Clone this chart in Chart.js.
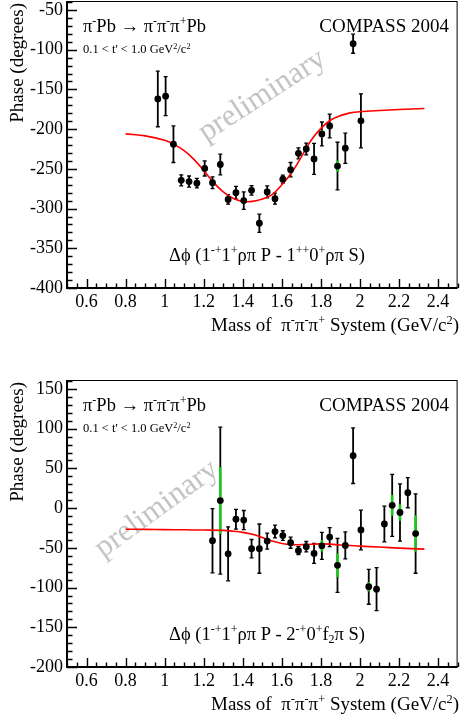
<!DOCTYPE html>
<html><head><meta charset="utf-8">
<script src="https://cdn.jsdelivr.net/npm/chart.js@4.4.1/dist/chart.umd.min.js"></script>
<style>
html,body{margin:0;padding:0;background:#fff;width:461px;height:718px;overflow:hidden;position:relative}
.wrap{position:absolute;left:0;width:461px;height:359px}
canvas{display:block}
</style></head><body>
<div class="wrap" style="top:-20px"><canvas id="c1" width="461" height="359"></canvas></div>
<div class="wrap" style="top:359px"><canvas id="c2" width="461" height="359"></canvas></div>
<script>
const FONT = '"Liberation Serif", "Times New Roman", Times, serif';

// ---------- axis ticks ----------
const xTickValues = [0.6, 0.8, 1.0, 1.2, 1.4, 1.6, 1.8, 2.0, 2.2, 2.4];
const xTickLabels = ['0.6', '0.8', '1', '1.2', '1.4', '1.6', '1.8', '2', '2.2', '2.4'];
const yTicksTop = [-400, -350, -300, -250, -200, -150, -100, -50];
const yTicksBot = [-200, -150, -100, -50, 0, 50, 100, 150];

// ---------- top panel: 1-+1+ rho pi P - 1++0+ rho pi S ----------
const massTop = [0.965, 1.005, 1.045, 1.085, 1.125, 1.165, 1.205, 1.245, 1.285, 1.325, 1.365, 1.405, 1.445, 1.485,
                 1.525, 1.565, 1.605, 1.645, 1.685, 1.725, 1.765, 1.805, 1.845, 1.885, 1.925, 1.965, 2.005];
const phaseTop = [-162, -158.5, -219, -264.5, -266, -268, -249.5, -267.5, -244.5, -288.5, -280, -290, -277, -318.5,
                  -279, -287.5, -263, -251, -230.5, -225, -237.5, -206, -196, -246.5, -224, -92.5, -189.5];
const errTop = [35, 24.5, 23, 7, 7, 6, 9.5, 7.5, 13, 6, 8, 11, 6, 11.5,
                7.5, 7, 5, 9, 7, 7.5, 19.5, 15, 15, 30, 19, 12, 34];
const sysTop = [0, 0, 0, 0, 0, 0, 0, 0, 4, 0, 0, 0, 0, 0,
                0, 0, 0, 0, 0, 0, 0, 4.5, 0, 7, 0, 0, 0];
const fitMassTop = [0.8, 0.9, 1.0, 1.05, 1.1, 1.15, 1.2, 1.25, 1.3, 1.35, 1.4, 1.45, 1.5, 1.55, 1.6, 1.65, 1.7,
                    1.75, 1.8, 1.85, 1.9, 1.95, 2.0, 2.1, 2.2, 2.33];
const fitPhaseTop = [-206, -208.5, -214, -219.5, -227, -238, -252, -267, -279, -287, -291, -291, -288, -282.5,
                     -270, -255, -235, -214, -199, -188.5, -183, -179.5, -178, -176.5, -175.3, -174];

// ---------- bottom panel: 1-+1+ rho pi P - 2-+0+ f2 pi S ----------
const massBot = [1.245, 1.285, 1.325, 1.365, 1.405, 1.445, 1.485, 1.525, 1.565, 1.605, 1.645, 1.685, 1.725, 1.765,
                 1.805, 1.845, 1.885, 1.925, 1.965, 2.005, 2.045, 2.085, 2.125, 2.165, 2.205, 2.245, 2.285];
const phaseBot = [-41, 9.5, -57.5, -14, -15, -51, -51, -41.5, -29.5, -34.5, -43.5, -53.5, -48.5, -57,
                  -47.5, -36.5, -72, -47, 66, -27.5, -99, -102, -20, 3.5, -5.5, 19.5, -32];
const errBot = [40.5, 92.5, 34, 12.5, 12, 11.5, 31, 10, 8, 6, 7, 5, 6.5, 12.5,
                17, 12, 34, 17, 35, 25, 22, 27, 22.5, 39, 36, 19, 50];
const sysBot = [0, 42, 0, 0, 0, 0, 0, 0, 0, 0, 0, 0, 0, 0,
                7, 0, 15, 0, 0, 0, 6, 0, 0, 13, 10.5, 0, 23];
const fitMassBot = [0.8, 0.9, 1.0, 1.1, 1.2, 1.3, 1.35, 1.4, 1.45, 1.5, 1.55, 1.6, 1.65, 1.7, 1.75, 1.8, 1.85,
                    1.9, 2.0, 2.1, 2.2, 2.33];
const fitPhaseBot = [-26.5, -26.8, -27, -27.3, -27.6, -28, -29, -30.5, -33, -37, -41.5, -44.5, -46, -46, -45.5,
                     -45, -45.3, -46.5, -47.8, -49, -50.3, -51.6];

// ---------- texts ----------
const reactionText = [['π'], ['-', 'sup'], ['Pb → π'], ['-', 'sup'], ['π'], ['-', 'sup'], ['π'], ['+', 'sup'], ['Pb']];
const tText = [['0.1 < t\' < 1.0 GeV'], ['2', 'sup'], ['/c'], ['2', 'sup']];
const expText = [['COMPASS 2004']];
const waveTop = [['Δϕ (1'], ['-+', 'sup'], ['1'], ['+', 'sup'], ['ρπ P - 1'], ['++', 'sup'], ['0'], ['+', 'sup'], ['ρπ S)']];
const waveBot = [['Δϕ (1'], ['-+', 'sup'], ['1'], ['+', 'sup'], ['ρπ P - 2'], ['-+', 'sup'], ['0'], ['+', 'sup'], ['f'], ['2', 'sub'], ['π S)']];
const xTitle = [['Mass of  π'], ['-', 'sup'], ['π'], ['-', 'sup'], ['π'], ['+', 'sup'], [' System (GeV/c'], ['2', 'sup'], [')']];
const yTitle = 'Phase (degrees)';
const watermark = 'preliminary';

function segFont(size, kind) {
  const s = kind ? size * 0.65 : size;
  return s.toFixed(2) + 'px ' + FONT;
}
function richWidth(ctx, segs, size) {
  let w = 0;
  for (const [t, k] of segs) { ctx.font = segFont(size, k); w += ctx.measureText(t).width; }
  return w;
}
function drawRich(ctx, segs, x, y, size, align) {
  const w = richWidth(ctx, segs, size);
  let cx = align === 'right' ? x - w : align === 'center' ? x - w / 2 : x;
  ctx.textAlign = 'left';
  ctx.textBaseline = 'alphabetic';
  for (const [t, k] of segs) {
    ctx.font = segFont(size, k);
    const dy = k === 'sup' ? -size * 0.36 : k === 'sub' ? size * 0.2 : 0;
    ctx.fillText(t, cx, y + dy);
    cx += ctx.measureText(t).width;
  }
}

function makePanel(canvasId, p) {
  const pts = p.mass.map((m, i) => ({ x: m, y: p.phase[i] }));
  const fit = p.fitMass.map((m, i) => ({ x: m, y: p.fitPhase[i] }));

  const panelPlugin = {
    id: 'rootStyle',
    beforeDatasetsDraw(chart) {
      const ctx = chart.ctx, a = chart.chartArea;
      const xs = chart.scales.x, ys = chart.scales.y;
      // watermark
      ctx.save();
      ctx.translate(a.left + p.wmX * (a.right - a.left), a.top + p.wmY * (a.bottom - a.top));
      ctx.rotate(-p.wmAngle * Math.PI / 180);
      ctx.font = '31px ' + FONT;
      ctx.fillStyle = '#c4c4c4';
      ctx.textAlign = 'center';
      ctx.textBaseline = 'middle';
      ctx.fillText(watermark, 0, 0);
      ctx.restore();
      // error bars
      ctx.save();
      ctx.beginPath();
      ctx.rect(a.left, a.top, a.right - a.left, a.bottom - a.top);
      ctx.clip();
      for (let i = 0; i < p.mass.length; i++) {
        const x = xs.getPixelForValue(p.mass[i]);
        const y1 = ys.getPixelForValue(p.phase[i] + p.err[i]);
        const y2 = ys.getPixelForValue(p.phase[i] - p.err[i]);
        ctx.strokeStyle = '#000';
        ctx.lineWidth = 1.8;
        ctx.beginPath();
        ctx.moveTo(x, y1); ctx.lineTo(x, y2);
        ctx.stroke();
        ctx.lineWidth = 1.3;
        ctx.beginPath();
        ctx.moveTo(x - 2, y1); ctx.lineTo(x + 2, y1);
        ctx.moveTo(x - 2, y2); ctx.lineTo(x + 2, y2);
        ctx.stroke();
        if (p.sys[i] > 0) {
          const s1 = ys.getPixelForValue(p.phase[i] + p.sys[i]);
          const s2 = ys.getPixelForValue(p.phase[i] - p.sys[i]);
          ctx.strokeStyle = '#18c818';
          ctx.lineWidth = 2.6;
          ctx.beginPath();
          ctx.moveTo(x, s1); ctx.lineTo(x, s2);
          ctx.stroke();
        }
      }
      ctx.restore();
    },
    afterDraw(chart) {
      const ctx = chart.ctx, a = chart.chartArea;
      const xs = chart.scales.x, ys = chart.scales.y;
      ctx.save();
      ctx.strokeStyle = '#000';
      // frame
      ctx.lineWidth = 1;
      ctx.strokeRect(a.left + 0.5, a.top + 0.5, a.right - a.left - 1, a.bottom - a.top - 1);
      ctx.lineWidth = 2;
      ctx.beginPath();
      ctx.moveTo(a.left, a.top); ctx.lineTo(a.left, a.bottom); ctx.lineTo(a.right, a.bottom);
      ctx.stroke();
      // x ticks (inside)
      ctx.lineWidth = 1.4;
      ctx.beginPath();
      for (let k = 0; k <= 40; k++) {
        const v = xs.min + k * 0.05;
        if (v > xs.max + 1e-9) break;
        const px = Math.round(xs.getPixelForValue(v)) + 0.5;
        const major = Math.abs(Math.round(v / 0.2) * 0.2 - v) < 1e-6;
        ctx.moveTo(px, a.bottom); ctx.lineTo(px, a.bottom - (major ? 9 : 4.5));
      }
      // y ticks (inside)
      const y0 = p.yTicks[0];
      for (let k = 0; k <= 40; k++) {
        const v = y0 + k * 10;
        if (v > ys.max + 1e-9) break;
        const py = Math.round(ys.getPixelForValue(v)) + 0.5;
        const major = (k % 5) === 0;
        ctx.moveTo(a.left, py); ctx.lineTo(a.left + (major ? 10 : 5.5), py);
      }
      ctx.stroke();
      // texts
      ctx.fillStyle = '#000';
      drawRich(ctx, reactionText, a.left + 16, a.top + 31, 18.5, 'left');
      drawRich(ctx, tText, a.left + 16, a.top + 52, 12.5, 'left');
      drawRich(ctx, expText, 449, a.top + 31, 19, 'right');
      drawRich(ctx, p.wave, 267, a.top + 259.5, 18.5, 'center');
      drawRich(ctx, xTitle, 459, a.bottom + 43, 19, 'right');
      ctx.save();
      ctx.translate(23, a.top + 2);
      ctx.rotate(-Math.PI / 2);
      ctx.font = '19px ' + FONT;
      ctx.textAlign = 'right';
      ctx.textBaseline = 'alphabetic';
      ctx.fillText(yTitle, 0, 0);
      ctx.restore();
      ctx.restore();
    }
  };

  return new Chart(document.getElementById(canvasId), {
    type: 'scatter',
    data: {
      datasets: [
        { data: pts, pointRadius: 3.4, pointHoverRadius: 3.4, pointBackgroundColor: '#000', pointBorderWidth: 0, showLine: false },
        { data: fit, showLine: true, borderColor: '#ff0000', borderWidth: 1.6, pointRadius: 0, fill: false,
          tension: 0.35 }
      ]
    },
    options: {
      responsive: false, animation: false, devicePixelRatio: 1,
      layout: { padding: { top: p.padTop, bottom: p.padBottom, left: 0, right: 1 } },
      plugins: { legend: { display: false }, tooltip: { enabled: false }, title: { display: false } },
      scales: {
        x: {
          type: 'linear', min: 0.5, max: 2.5,
          grid: { display: false, drawTicks: false }, border: { display: false },
          ticks: { font: { family: FONT, size: 18 }, color: '#000', padding: 3, maxRotation: 0,
                   callback: (v, i) => xTickLabels[i] },
          afterBuildTicks: s => { s.ticks = xTickValues.map(v => ({ value: v })); },
          afterFit: s => { s.height = 50; }
        },
        y: {
          type: 'linear', min: p.yMin, max: p.yMax,
          grid: { display: false, drawTicks: false }, border: { display: false },
          ticks: { font: { family: FONT, size: 18 }, color: '#000', padding: 4,
                   callback: (v, i) => String(p.yTicks[i]) },
          afterBuildTicks: s => { s.ticks = p.yTicks.map(v => ({ value: v })); },
          afterFit: s => { s.width = 67; }
        }
      }
    },
    plugins: [panelPlugin]
  });
}

makePanel('c1', {
  mass: massTop, phase: phaseTop, err: errTop, sys: sysTop,
  fitMass: fitMassTop, fitPhase: fitPhaseTop,
  yMin: -400, yMax: -38.7, yTicks: yTicksTop, wave: waveTop,
  padTop: 21, padBottom: 1, wmX: 0.50, wmY: 0.33, wmAngle: 33
});
makePanel('c2', {
  mass: massBot, phase: phaseBot, err: errBot, sys: sysBot,
  fitMass: fitMassBot, fitPhase: fitPhaseBot,
  yMin: -200, yMax: 161.3, yTicks: yTicksBot, wave: waveBot,
  padTop: 21, padBottom: 1, wmX: 0.23, wmY: 0.45, wmAngle: 36
});
</script>
</body></html>
